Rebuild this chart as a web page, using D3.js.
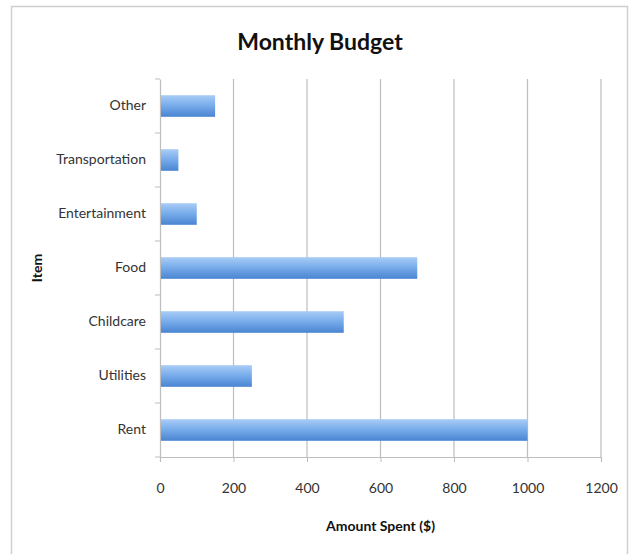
<!DOCTYPE html>
<html lang="en">
<head>
    <meta charset="UTF-8">
    <title>Monthly Budget</title>
    <script src="https://d3js.org/d3.v7.min.js"></script>
    <style>
        body { margin: 0; background: #fff; }
        svg { display: block; }
    </style>
</head>
<body>
    <svg width="630" height="554"></svg>

    <script>
        // Chart values
        const items = ["Rent", "Utilities", "Childcare", "Food", "Entertainment", "Transportation", "Other"];
        const amounts = [1000, 250, 500, 700, 100, 50, 150];
        const xTicks = [0, 200, 400, 600, 800, 1000, 1200];

        const data = items.map((d, i) => ({ item: d, amount: amounts[i] }));

        const font = "Lato, 'Open Sans', sans-serif";

        const margin = { top: 79, right: 29, bottom: 97, left: 160 },
              width = 630 - margin.left - margin.right,
              height = 554 - margin.top - margin.bottom;

        const root = d3.select("svg").style("font-family", font);

        // Outer chart border
        root.append("rect")
            .attr("x", 11.5)
            .attr("y", 6.5)
            .attr("width", 616)
            .attr("height", 560)
            .attr("fill", "none")
            .attr("stroke", "#cfcfcf")
            .attr("stroke-width", 1.5);

        // Gradient for the bars
        const grad = root.append("defs").append("linearGradient")
            .attr("id", "barGrad")
            .attr("x1", 0).attr("y1", 0).attr("x2", 0).attr("y2", 1);
        grad.append("stop").attr("offset", "0%").attr("stop-color", "#a9ccf5");
        grad.append("stop").attr("offset", "45%").attr("stop-color", "#7aaeec");
        grad.append("stop").attr("offset", "100%").attr("stop-color", "#4a84d2");

        const svg = root.append("g")
            .attr("transform", `translate(${margin.left},${margin.top})`);

        const x = d3.scaleLinear()
            .domain([0, 1200])
            .range([0, width]);

        const y = d3.scaleBand()
            .domain(items.slice().reverse())
            .range([0, height])
            .paddingInner(0.6)
            .paddingOuter(0.3);

        // Vertical gridlines
        svg.append("g")
           .selectAll("line")
           .data(xTicks.slice(1))
           .enter()
           .append("line")
           .attr("x1", d => x(d))
           .attr("x2", d => x(d))
           .attr("y1", 0)
           .attr("y2", height)
           .attr("stroke", "#bdbdbd")
           .attr("stroke-width", 1.2);

        // X axis
        const xAxis = svg.append("g")
           .attr("transform", `translate(0,${height})`)
           .call(d3.axisBottom(x).tickValues(xTicks).tickFormat(d3.format("d")).tickSize(5).tickPadding(21));
        xAxis.attr("font-family", font);
        xAxis.select(".domain").attr("stroke", "#bdbdbd").attr("stroke-width", 1.2);
        xAxis.selectAll(".tick line").attr("stroke", "#bdbdbd");
        xAxis.selectAll("text")
             .attr("fill", "#333")
             .style("font-size", "14px");

        xAxis.append("text")
             .attr("x", width / 2)
             .attr("y", 74)
             .attr("fill", "#111")
             .style("text-anchor", "middle")
             .style("font-size", "14px")
             .style("font-weight", "bold")
             .text("Amount Spent ($)");

        // Y axis: labels centred on bands, tick marks between categories
        const yAxis = svg.append("g")
           .call(d3.axisLeft(y).tickSize(0).tickPadding(14));
        yAxis.attr("font-family", font);
        yAxis.select(".domain").attr("stroke", "#bdbdbd").attr("stroke-width", 1.2);
        yAxis.selectAll("text")
             .attr("fill", "#333")
             .style("font-size", "14px");

        const step = y.step();
        svg.append("g")
           .selectAll("line")
           .data(d3.range(items.length + 1))
           .enter()
           .append("line")
           .attr("x1", -5)
           .attr("x2", 0)
           .attr("y1", i => i * step)
           .attr("y2", i => i * step)
           .attr("stroke", "#bdbdbd");

        yAxis.append("text")
             .attr("x", -height / 2)
             .attr("y", -118)
             .attr("transform", "rotate(-90)")
             .attr("fill", "#111")
             .style("text-anchor", "middle")
             .style("font-size", "14px")
             .style("font-weight", "bold")
             .text("Item");

        // Bars
        svg.selectAll(".bar")
           .data(data)
           .enter()
           .append("rect")
           .attr("class", "bar")
           .attr("x", 1)
           .attr("y", d => y(d.item))
           .attr("width", d => x(d.amount) - 1)
           .attr("height", y.bandwidth())
           .attr("fill", "url(#barGrad)");

        // Title
        root.append("text")
            .attr("x", 320)
            .attr("y", 50)
            .attr("text-anchor", "middle")
            .style("font-size", "23px")
            .style("font-weight", "bold")
            .attr("fill", "#111")
            .text("Monthly Budget");
    </script>
</body>
</html>
